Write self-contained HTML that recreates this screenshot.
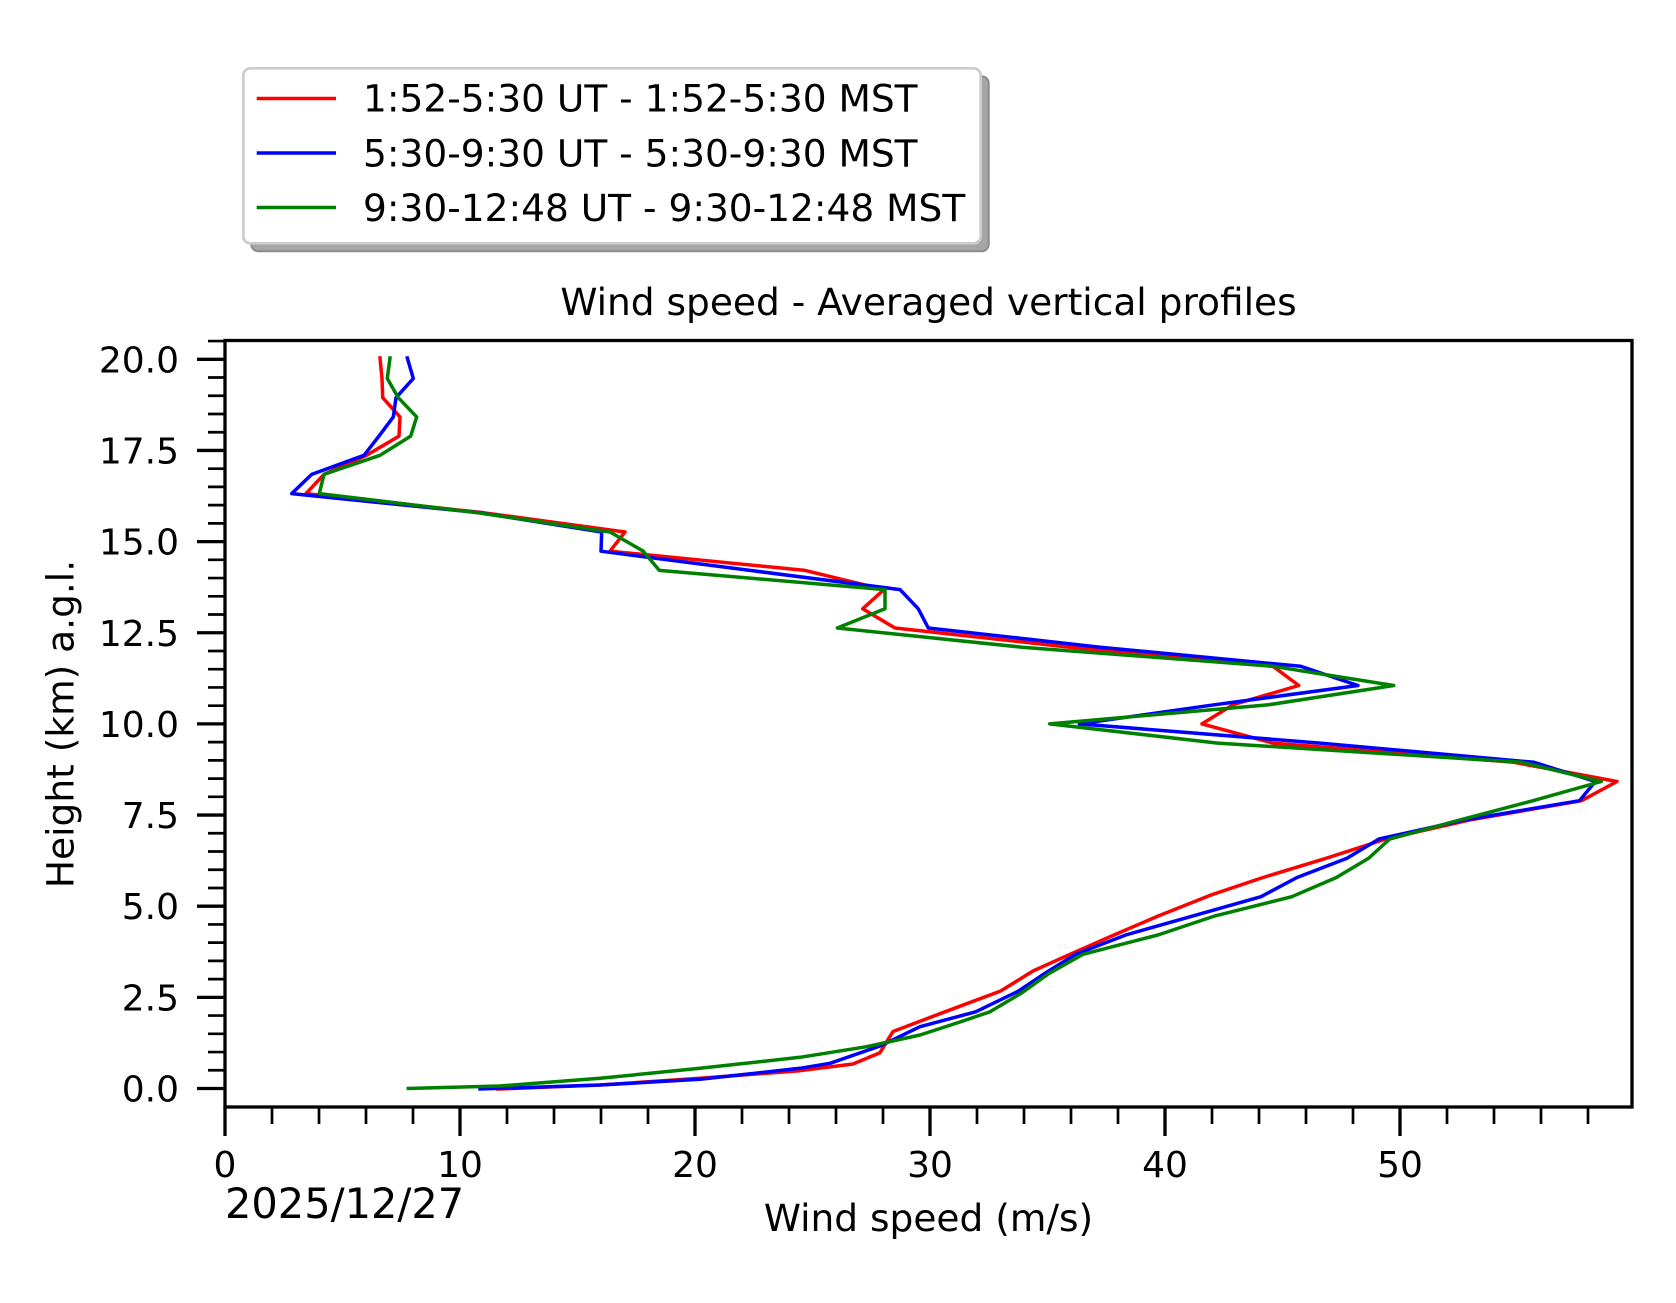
<!DOCTYPE html>
<html>
<head>
<meta charset="utf-8">
<style>
  html, body { margin: 0; padding: 0; background: #ffffff; }
  svg { display: block; }
  text { font-family: "DejaVu Sans", "Liberation Sans", sans-serif; fill: #000; }
</style>
</head>
<body>
<svg width="1676" height="1303" viewBox="0 0 1676 1303" xmlns="http://www.w3.org/2000/svg">
  <rect x="0" y="0" width="1676" height="1303" fill="#ffffff"/>

  <!-- Legend -->
  <rect x="251.3" y="76.3" width="737.4" height="175" rx="7" ry="7" fill="#a6a6a6" stroke="#8c8c8c" stroke-width="2"/>
  <rect x="243.3" y="68.3" width="737.4" height="175" rx="7" ry="7" fill="#ffffff" stroke="#cccccc" stroke-width="2.7"/>
  <line x1="256.7" y1="98.5" x2="336" y2="98.5" stroke="#ff0000" stroke-width="3.6"/>
  <line x1="256.7" y1="153" x2="336" y2="153" stroke="#0000ff" stroke-width="3.6"/>
  <line x1="256.7" y1="207.5" x2="336" y2="207.5" stroke="#008000" stroke-width="3.6"/>
  <text x="363" y="111.7" font-size="37.5">1:52-5:30 UT - 1:52-5:30 MST</text>
  <text x="363" y="166.4" font-size="37.5">5:30-9:30 UT - 5:30-9:30 MST</text>
  <text x="363" y="221.2" font-size="37.5">9:30-12:48 UT - 9:30-12:48 MST</text>

  <!-- Title -->
  <text x="928.5" y="315" font-size="37.5" text-anchor="middle">Wind speed - Averaged vertical profiles</text>

  <!-- Data series -->
  <g fill="none" stroke-width="3.5" stroke-linejoin="round" stroke-linecap="square">
    <polyline stroke="#ff0000" points="380,358 382,378.5 382.7,397.7 400,416.9 399,436.1 366.7,455.3 324,474.4 306,493.6 484,512.8 625,532 610,551.2 805,570.4 884,589.6 862.7,608.8 895,628 1070,647.2 1273,666.3 1298.8,685.5 1233,704.7 1202,723.9 1273,743.1 1514,762.3 1617,781.5 1581.5,800.7 1470,819.9 1386,839 1326,858.3 1263,877.5 1211,895 1158.5,915.9 1114,935 1070,954.3 1033,971 1000.7,991 945,1011.8 893,1031.5 880,1052.7 853,1064 800,1070.7 700,1078.3 600,1085 498,1089"/>
    <polyline stroke="#0000ff" points="407.3,358 413.3,378.5 396,397.7 393.3,416.9 379,436.1 364,455.3 311.7,474.4 291.7,493.6 480,512.8 601.7,532 601,551.2 750,570.4 900,589.6 918.3,608.8 928.3,628 1100,647.2 1300.7,666.3 1358,685.5 1215,704.7 1079.3,723.9 1320,743.1 1534,762.3 1595.3,781.5 1579.5,800.7 1465,819.9 1379,839 1347,858.3 1297,877.5 1261,896.7 1193,915.9 1125.7,935 1075.7,954.3 1047,972 1018.6,991 975.7,1011.8 920,1026.7 880,1046 830,1063.3 800,1068.3 700,1079.3 600,1085 480,1089"/>
    <polyline stroke="#008000" points="390,358 387.3,378.5 398.3,397.7 416.7,416.9 410.7,436.1 380,455.3 324,474.4 319.3,493.6 478,512.8 610,532 643.3,551.2 659.3,570.4 885,589.6 885,608.8 837.3,628 1022,647.2 1273,666.3 1393.7,685.5 1269,704.7 1049.7,723.9 1217.7,743.1 1522,762.3 1601.3,781.5 1533,800.7 1460,819.9 1389.7,839 1368.6,858.3 1336.4,877.5 1291.8,896.7 1215,915.9 1157.9,935 1082.9,954.3 1049,973.5 1022,992.7 990,1011.8 960,1022 920,1035 866.7,1046.7 800,1057.3 700,1068.3 600,1078.3 500,1086 408.3,1088.5"/>
  </g>

  <!-- Axes frame -->
  <rect x="225" y="340.5" width="1407" height="766.5" fill="none" stroke="#000" stroke-width="3.3"/>

  <!-- Y major ticks -->
  <g stroke="#000" stroke-width="3.3">
    <line x1="197" y1="1088.5" x2="225" y2="1088.5"/>
    <line x1="197" y1="997.35" x2="225" y2="997.35"/>
    <line x1="197" y1="906.2" x2="225" y2="906.2"/>
    <line x1="197" y1="815.05" x2="225" y2="815.05"/>
    <line x1="197" y1="723.9" x2="225" y2="723.9"/>
    <line x1="197" y1="632.75" x2="225" y2="632.75"/>
    <line x1="197" y1="541.6" x2="225" y2="541.6"/>
    <line x1="197" y1="450.45" x2="225" y2="450.45"/>
    <line x1="197" y1="359.3" x2="225" y2="359.3"/>
  </g>
  <!-- Y minor ticks -->
  <g stroke="#000" stroke-width="2.7">
    <line x1="208" y1="1070.27" x2="225" y2="1070.27"/>
    <line x1="208" y1="1052.04" x2="225" y2="1052.04"/>
    <line x1="208" y1="1033.81" x2="225" y2="1033.81"/>
    <line x1="208" y1="1015.58" x2="225" y2="1015.58"/>
    <line x1="208" y1="979.12" x2="225" y2="979.12"/>
    <line x1="208" y1="960.89" x2="225" y2="960.89"/>
    <line x1="208" y1="942.66" x2="225" y2="942.66"/>
    <line x1="208" y1="924.43" x2="225" y2="924.43"/>
    <line x1="208" y1="887.97" x2="225" y2="887.97"/>
    <line x1="208" y1="869.74" x2="225" y2="869.74"/>
    <line x1="208" y1="851.51" x2="225" y2="851.51"/>
    <line x1="208" y1="833.28" x2="225" y2="833.28"/>
    <line x1="208" y1="796.82" x2="225" y2="796.82"/>
    <line x1="208" y1="778.59" x2="225" y2="778.59"/>
    <line x1="208" y1="760.36" x2="225" y2="760.36"/>
    <line x1="208" y1="742.13" x2="225" y2="742.13"/>
    <line x1="208" y1="705.67" x2="225" y2="705.67"/>
    <line x1="208" y1="687.44" x2="225" y2="687.44"/>
    <line x1="208" y1="669.21" x2="225" y2="669.21"/>
    <line x1="208" y1="650.98" x2="225" y2="650.98"/>
    <line x1="208" y1="614.52" x2="225" y2="614.52"/>
    <line x1="208" y1="596.29" x2="225" y2="596.29"/>
    <line x1="208" y1="578.06" x2="225" y2="578.06"/>
    <line x1="208" y1="559.83" x2="225" y2="559.83"/>
    <line x1="208" y1="523.37" x2="225" y2="523.37"/>
    <line x1="208" y1="505.14" x2="225" y2="505.14"/>
    <line x1="208" y1="486.91" x2="225" y2="486.91"/>
    <line x1="208" y1="468.68" x2="225" y2="468.68"/>
    <line x1="208" y1="432.22" x2="225" y2="432.22"/>
    <line x1="208" y1="413.99" x2="225" y2="413.99"/>
    <line x1="208" y1="395.76" x2="225" y2="395.76"/>
    <line x1="208" y1="377.53" x2="225" y2="377.53"/>
    <line x1="208" y1="341.07" x2="225" y2="341.07"/>
  </g>
  <!-- Y tick labels -->
  <g font-size="36" text-anchor="end">
    <text x="179" y="1101.5">0.0</text>
    <text x="179" y="1010.35">2.5</text>
    <text x="179" y="919.2">5.0</text>
    <text x="179" y="828.05">7.5</text>
    <text x="179" y="736.9">10.0</text>
    <text x="179" y="645.75">12.5</text>
    <text x="179" y="554.6">15.0</text>
    <text x="179" y="463.45">17.5</text>
    <text x="179" y="372.3">20.0</text>
  </g>

  <!-- X major ticks -->
  <g stroke="#000" stroke-width="3.3">
    <line x1="225" y1="1107" x2="225" y2="1136"/>
    <line x1="460" y1="1107" x2="460" y2="1136"/>
    <line x1="695" y1="1107" x2="695" y2="1136"/>
    <line x1="930" y1="1107" x2="930" y2="1136"/>
    <line x1="1165" y1="1107" x2="1165" y2="1136"/>
    <line x1="1400" y1="1107" x2="1400" y2="1136"/>
  </g>
  <!-- X minor ticks -->
  <g stroke="#000" stroke-width="2.7">
    <line x1="272" y1="1107" x2="272" y2="1124"/>
    <line x1="319" y1="1107" x2="319" y2="1124"/>
    <line x1="366" y1="1107" x2="366" y2="1124"/>
    <line x1="413" y1="1107" x2="413" y2="1124"/>
    <line x1="507" y1="1107" x2="507" y2="1124"/>
    <line x1="554" y1="1107" x2="554" y2="1124"/>
    <line x1="601" y1="1107" x2="601" y2="1124"/>
    <line x1="648" y1="1107" x2="648" y2="1124"/>
    <line x1="742" y1="1107" x2="742" y2="1124"/>
    <line x1="789" y1="1107" x2="789" y2="1124"/>
    <line x1="836" y1="1107" x2="836" y2="1124"/>
    <line x1="883" y1="1107" x2="883" y2="1124"/>
    <line x1="977" y1="1107" x2="977" y2="1124"/>
    <line x1="1024" y1="1107" x2="1024" y2="1124"/>
    <line x1="1071" y1="1107" x2="1071" y2="1124"/>
    <line x1="1118" y1="1107" x2="1118" y2="1124"/>
    <line x1="1212" y1="1107" x2="1212" y2="1124"/>
    <line x1="1259" y1="1107" x2="1259" y2="1124"/>
    <line x1="1306" y1="1107" x2="1306" y2="1124"/>
    <line x1="1353" y1="1107" x2="1353" y2="1124"/>
    <line x1="1447" y1="1107" x2="1447" y2="1124"/>
    <line x1="1494" y1="1107" x2="1494" y2="1124"/>
    <line x1="1541" y1="1107" x2="1541" y2="1124"/>
    <line x1="1588" y1="1107" x2="1588" y2="1124"/>
  </g>
  <!-- X tick labels -->
  <g font-size="36" text-anchor="middle">
    <text x="225" y="1177">0</text>
    <text x="460" y="1177">10</text>
    <text x="695" y="1177">20</text>
    <text x="930" y="1177">30</text>
    <text x="1165" y="1177">40</text>
    <text x="1400" y="1177">50</text>
  </g>

  <!-- Date -->
  <text x="225" y="1218" font-size="41.5">2025/12/27</text>

  <!-- Axis labels -->
  <text x="928.5" y="1231" font-size="37.5" text-anchor="middle">Wind speed (m/s)</text>
  <text transform="translate(73.3,724) rotate(-90)" font-size="37.5" text-anchor="middle">Height (km) a.g.l.</text>
</svg>
</body>
</html>
